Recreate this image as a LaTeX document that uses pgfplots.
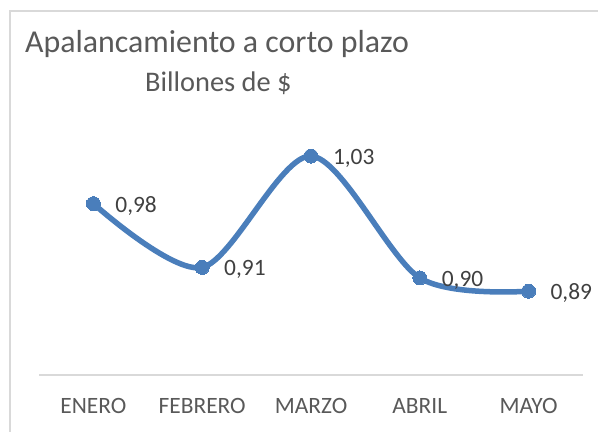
\documentclass[border=0pt]{standalone}
\usepackage{pgfplots}
\pgfplotsset{compat=1.18}
\usepackage{pgfplotstable}
\usepackage{fontspec}
\setmainfont{Carlito}
\definecolor{lineblue}{HTML}{4A7EBB}
\definecolor{txt}{HTML}{595959}
\definecolor{lbl}{HTML}{404040}
\definecolor{gridc}{HTML}{D9D9D9}
\pgfplotstableread{
x y lab
0 0.980 0,98
1 0.913 0,91
2 1.030 1,03
3 0.902 0,90
4 0.888 0,89
}\datatable
\begin{document}
\begin{tikzpicture}
\useasboundingbox (0bp,0bp) rectangle (598bp,432bp);
\draw[gridc, line width=1.5bp] (10bp,-5bp) -- (10bp,421bp) -- (605bp,421bp);
\begin{axis}[
  at={(39bp,57bp)}, anchor=south west,
  scale only axis, width=544bp, height=238bp,
  xmin=-0.5, xmax=4.5, ymin=0.8, ymax=1.05,
  axis x line*=bottom, axis y line=none,
  x axis line style={gridc, line width=1.5bp, -},
  xtick={0,1,2,3,4},
  xticklabels={ENERO,FEBRERO,MARZO,ABRIL,MAYO},
  major tick length=0pt,
  xticklabel style={font=\fontsize{23.5}{28}\selectfont, text=txt, anchor=base, yshift=-38bp, inner sep=0pt},
  ytick=\empty,
  clip=false,
]
\addplot[lineblue, line width=5.5bp, smooth, mark=*, mark size=7bp,
  mark options={fill=lineblue, draw=lineblue, line width=0pt},
  nodes near coords, point meta=explicit symbolic,
  nodes near coords style={anchor=base west, inner sep=0pt, xshift=22bp, yshift=-8.5bp, text=lbl, font=\fontsize{23.5}{28}\selectfont}]
  table[x=x, y=y, meta=lab]{\datatable};
\end{axis}
\node[anchor=base west, inner sep=0pt, text=txt, font=\fontsize{32}{38}\selectfont] at (25bp,379bp) {Apalancamiento a corto plazo};
\node[anchor=base west, inner sep=0pt, text=txt, font=\fontsize{28.5}{34}\selectfont] at (145bp,340bp) {Billones de \$};
\end{tikzpicture}
\end{document}
